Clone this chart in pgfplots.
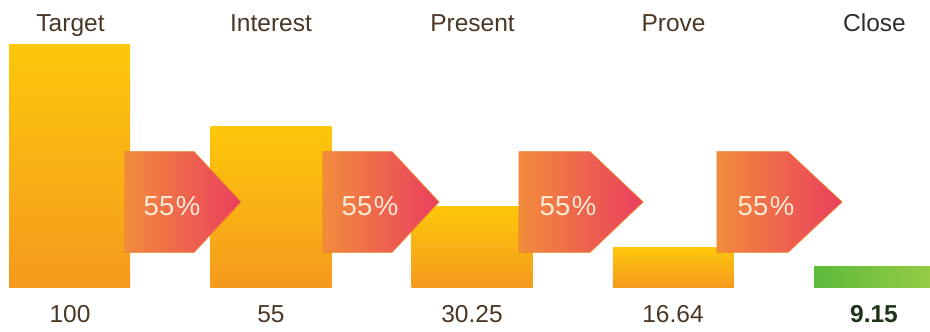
\documentclass[border=0pt]{standalone}
\usepackage{pgfplots}
\pgfplotsset{compat=1.18}
\usepackage{fontspec}
\setmainfont{Liberation Sans}
\definecolor{barTop}{HTML}{FDC70A}
\definecolor{barMid}{HTML}{FCC10C}
\definecolor{barBot}{HTML}{F59A1E}
\definecolor{arrL}{HTML}{F28C3C}
\definecolor{arrR}{HTML}{EA3F5E}
\definecolor{arrEdge}{HTML}{EE7E2E}
\definecolor{txtBrown}{HTML}{4A3726}
\definecolor{txtDark}{HTML}{2E2E2E}
\definecolor{txtGreen}{HTML}{1E3318}
\definecolor{grL}{HTML}{5DBA3C}
\definecolor{grR}{HTML}{98CC45}
\definecolor{pctTxt}{HTML}{FEEBD6}
\begin{document}
\begin{tikzpicture}
\begin{axis}[
  name=ax,
  scale only axis, width=930pt, height=332pt,
  xmin=0, xmax=930, ymin=-18.45, ymax=118.57,
  hide axis, clip=true,
  bar width=121,
  funnelbar/.style={ybar, bar shift=0pt, draw=none, top color=barTop, middle color=barMid, bottom color=barBot},
]
\addplot[funnelbar] coordinates {(69.5,100)};   % Target
\addplot[funnelbar] coordinates {(271,66.3)};   % Interest
\addplot[funnelbar] coordinates {(472,33.3)};   % Present
\addplot[funnelbar] coordinates {(673.3,16.5)}; % Prove
\addplot[ybar, bar shift=0pt, draw=none, left color=grL, right color=grR] coordinates {(874.5,8.5)}; % Close
% arrows
\path[draw=arrEdge, line width=0.8pt, left color=arrL, right color=arrR] (axis cs:125,55.96) -- (axis cs:194,55.96) -- (axis cs:241,35.2) -- (axis cs:194,14.44) -- (axis cs:125,14.44) -- cycle;
\path[draw=arrEdge, line width=0.8pt, left color=arrL, right color=arrR] (axis cs:323,55.96) -- (axis cs:392,55.96) -- (axis cs:439,35.2) -- (axis cs:392,14.44) -- (axis cs:323,14.44) -- cycle;
\path[draw=arrEdge, line width=0.8pt, left color=arrL, right color=arrR] (axis cs:519,55.96) -- (axis cs:590,55.96) -- (axis cs:643,35.2) -- (axis cs:590,14.44) -- (axis cs:519,14.44) -- cycle;
\path[draw=arrEdge, line width=0.8pt, left color=arrL, right color=arrR] (axis cs:717,55.96) -- (axis cs:788,55.96) -- (axis cs:842,35.2) -- (axis cs:788,14.44) -- (axis cs:717,14.44) -- cycle;
\node[font=\fontsize{27.5}{30}\selectfont, text=pctTxt] at (axis cs:172,33.7) {55\kern1.5pt\%};
\node[font=\fontsize{27.5}{30}\selectfont, text=pctTxt] at (axis cs:370,33.7) {55\kern1.5pt\%};
\node[font=\fontsize{27.5}{30}\selectfont, text=pctTxt] at (axis cs:568,33.7) {55\kern1.5pt\%};
\node[font=\fontsize{27.5}{30}\selectfont, text=pctTxt] at (axis cs:766,33.7) {55\kern1.5pt\%};
% top labels
\node[anchor=base, font=\fontsize{24.5}{29}\selectfont, text=txtBrown] at (axis cs:70.5,105.49) {Target};
\node[anchor=base, font=\fontsize{24.5}{29}\selectfont, text=txtBrown] at (axis cs:271,105.49) {Interest};
\node[anchor=base, font=\fontsize{24.5}{29}\selectfont, text=txtBrown] at (axis cs:472.5,105.49) {Present};
\node[anchor=base, font=\fontsize{24.5}{29}\selectfont, text=txtBrown] at (axis cs:673.5,105.49) {Prove};
\node[anchor=base, font=\fontsize{24.5}{29}\selectfont, text=txtDark] at (axis cs:874.5,105.49) {Close};
% bottom values
\node[anchor=base, font=\fontsize{24.5}{29}\selectfont, text=txtBrown] at (axis cs:70,-14.73) {100};
\node[anchor=base, font=\fontsize{24.5}{29}\selectfont, text=txtBrown] at (axis cs:271,-14.73) {55};
\node[anchor=base, font=\fontsize{24.5}{29}\selectfont, text=txtBrown] at (axis cs:472,-14.73) {30.25};
\node[anchor=base, font=\fontsize{24.5}{29}\selectfont, text=txtBrown] at (axis cs:673,-14.73) {16.64};
\node[anchor=base, font=\fontsize{24.5}{29}\selectfont\bfseries, text=txtGreen] at (axis cs:874,-14.73) {9.15};
\end{axis}
\pgfresetboundingbox
\path[use as bounding box] (ax.south west) rectangle (ax.north east);
\end{tikzpicture}
\end{document}
